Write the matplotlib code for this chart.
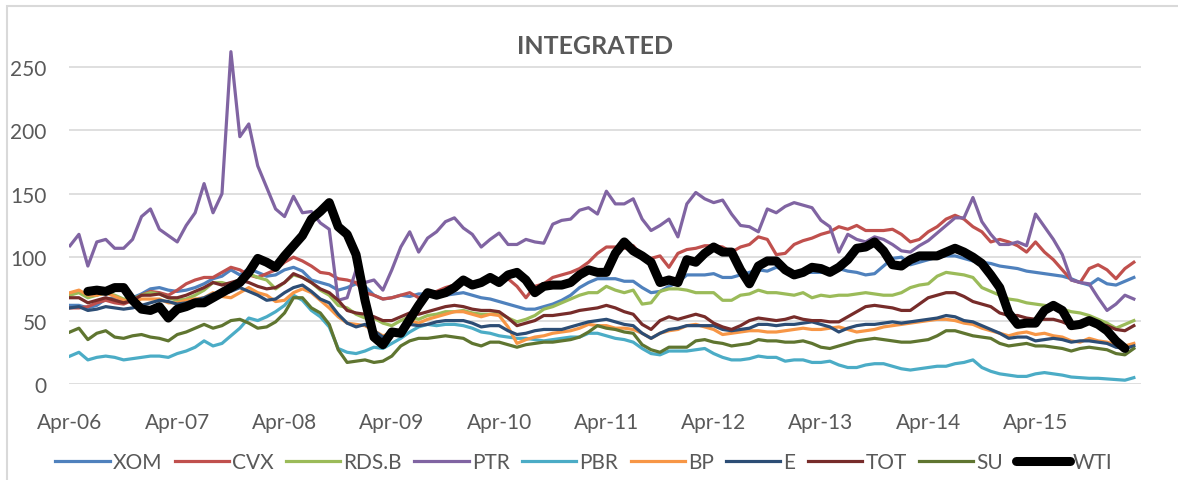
import numpy as np
import matplotlib.pyplot as plt
from matplotlib.patches import Rectangle

# valores mensais (Abr-06 a Mar-16)
xom = [62, 62, 60, 62, 67, 68, 66, 68, 71, 75, 76, 74, 73, 74, 76, 79, 83, 85, 90, 86,
       91, 88, 85, 86, 90, 92, 89, 82, 80, 78, 74, 76, 79, 77, 70, 67, 68, 70, 69, 71,
       71, 71, 70, 71, 72, 70, 68, 67, 65, 63, 61, 59, 59, 61, 63, 66, 70, 76, 80, 83,
       83, 83, 81, 81, 76, 72, 73, 77, 80, 86, 86, 86, 87, 84, 84, 86, 88, 90, 89, 92,
       90, 88, 88, 88, 88, 89, 91, 89, 88, 86, 87, 93, 99, 100, 94, 96, 98, 100, 101, 101,
       99, 97, 96, 95, 93, 92, 91, 89, 88, 87, 86, 85, 83, 80, 78, 83, 79, 78, 81, 84]
cvx = [60, 60, 61, 64, 66, 64, 63, 66, 70, 73, 72, 70, 74, 79, 82, 84, 84, 88, 92, 90,
       86, 84, 87, 90, 96, 100, 97, 93, 88, 87, 83, 82, 80, 72, 70, 67, 68, 70, 72, 68,
       71, 73, 76, 78, 80, 80, 80, 82, 83, 83, 77, 68, 77, 79, 84, 86, 88, 91, 96, 103,
       108, 108, 107, 109, 101, 99, 101, 92, 103, 106, 107, 109, 109, 108, 104, 108, 110, 116, 114, 102,
       103, 110, 113, 115, 118, 120, 124, 122, 125, 121, 121, 121, 122, 118, 112, 114, 120, 124, 130, 133,
       130, 124, 120, 112, 114, 112, 109, 104, 112, 104, 98, 90, 82, 80, 91, 94, 90, 83, 91, 96]
rdsb = [70, 72, 68, 70, 72, 70, 67, 67, 70, 72, 71, 68, 66, 67, 70, 74, 80, 80, 78, 82,
        87, 84, 82, 75, 80, 86, 84, 80, 74, 70, 62, 60, 55, 52, 52, 48, 46, 50, 53, 51,
        54, 55, 57, 57, 58, 56, 55, 55, 56, 52, 49, 51, 54, 59, 61, 64, 67, 70, 72, 72,
        77, 74, 72, 74, 63, 64, 73, 75, 75, 74, 72, 72, 72, 66, 66, 70, 71, 74, 72, 72,
        71, 70, 72, 68, 70, 69, 70, 70, 71, 72, 71, 70, 70, 72, 76, 78, 79, 85, 88, 87,
        86, 84, 76, 73, 70, 67, 66, 64, 63, 62, 61, 59, 57, 56, 54, 51, 48, 44, 47, 50]
ptr = [109, 118, 93, 112, 114, 107, 107, 114, 132, 138, 122, 117, 112, 125, 135, 158, 135, 150, 262, 195,
       205, 172, 155, 138, 132, 148, 135, 136, 127, 122, 66, 68, 90, 80, 82, 74, 90, 108, 120, 104,
       115, 120, 128, 131, 123, 118, 108, 114, 119, 110, 110, 114, 112, 111, 126, 129, 130, 137, 139, 134,
       152, 142, 142, 146, 130, 121, 125, 130, 116, 142, 151, 146, 143, 145, 134, 125, 124, 120, 138, 135,
       140, 143, 141, 139, 129, 124, 104, 118, 114, 112, 116, 114, 110, 105, 104, 109, 113, 119, 125, 131,
       131, 147, 128, 118, 110, 110, 112, 109, 134, 124, 114, 102, 82, 80, 79, 68, 58, 63, 70, 67]
pbr = [22, 25, 19, 21, 22, 21, 19, 20, 21, 22, 22, 21, 24, 26, 29, 34, 30, 32, 38, 44,
       52, 50, 53, 57, 62, 70, 66, 58, 53, 45, 28, 25, 24, 26, 29, 28, 32, 36, 41, 45,
       47, 46, 47, 47, 46, 44, 41, 40, 38, 37, 36, 36, 35, 34, 35, 36, 37, 37, 40, 40,
       38, 36, 35, 33, 28, 24, 23, 26, 26, 26, 27, 28, 24, 21, 19, 19, 20, 22, 21, 21,
       18, 19, 19, 17, 17, 18, 15, 13, 13, 15, 16, 16, 14, 12, 11, 12, 13, 14, 14, 16,
       17, 19, 13, 10, 8, 7, 6, 6, 8, 9, 8, 7, 5.5, 5, 4.5, 4.5, 4, 3.5, 3, 5]
bp = [72, 74, 70, 70, 72, 69, 66, 65, 67, 67, 67, 64, 64, 66, 67, 68, 72, 69, 68, 72,
      76, 72, 70, 65, 66, 72, 75, 72, 66, 60, 53, 48, 47, 46, 42, 38, 40, 43, 50, 48,
      51, 53, 55, 57, 57, 55, 53, 55, 54, 45, 32, 35, 37, 38, 40, 41, 42, 44, 47, 46,
      46, 44, 44, 43, 40, 36, 40, 42, 43, 46, 47, 45, 43, 39, 40, 41, 42, 42, 41, 41,
      42, 43, 44, 43, 43, 44, 45, 43, 41, 42, 43, 45, 46, 47, 48, 49, 50, 51, 51, 50,
      48, 47, 44, 42, 40, 38, 40, 41, 39, 40, 38, 37, 34, 33, 36, 34, 33, 31, 30, 32]
eni = [60, 61, 58, 59, 61, 60, 59, 60, 62, 64, 66, 65, 63, 64, 66, 68, 71, 71, 73, 76,
       73, 70, 66, 67, 72, 76, 78, 73, 67, 64, 55, 48, 45, 47, 42, 37, 39, 43, 47, 46,
       47, 49, 50, 50, 50, 48, 45, 46, 46, 42, 39, 40, 42, 43, 43, 43, 45, 47, 49, 50,
       51, 49, 47, 46, 40, 36, 40, 43, 44, 46, 46, 46, 46, 43, 42, 43, 44, 47, 47, 46,
       47, 47, 48, 49, 47, 45, 41, 44, 46, 47, 47, 48, 49, 48, 49, 50, 51, 52, 54, 53,
       50, 49, 46, 43, 40, 36, 37, 37, 34, 35, 36, 35, 33, 34, 34, 33, 32, 29, 28, 30]
tot = [68, 68, 64, 66, 68, 66, 64, 66, 70, 70, 71, 68, 68, 70, 73, 76, 80, 78, 80, 82,
       80, 77, 75, 76, 80, 87, 84, 80, 75, 72, 66, 58, 56, 55, 53, 50, 50, 53, 56, 55,
       57, 59, 61, 62, 61, 59, 58, 58, 57, 52, 46, 48, 50, 54, 54, 55, 56, 58, 59, 60,
       62, 60, 57, 55, 47, 43, 50, 53, 51, 53, 55, 53, 48, 45, 43, 46, 50, 52, 51, 50,
       51, 53, 51, 50, 50, 49, 49, 53, 57, 61, 62, 61, 60, 58, 58, 63, 68, 70, 72, 72,
       69, 65, 63, 61, 56, 54, 54, 52, 51, 51, 51, 49, 46, 47, 49, 47, 46, 43, 42, 46]
su = [41, 44, 35, 40, 42, 37, 36, 38, 39, 37, 36, 34, 39, 41, 44, 47, 44, 46, 50, 51,
      48, 44, 45, 49, 56, 68, 68, 60, 56, 47, 27, 17, 18, 19, 17, 18, 22, 30, 34, 36,
      36, 37, 38, 37, 36, 32, 30, 33, 33, 31, 29, 31, 32, 33, 33, 34, 35, 37, 41, 46,
      44, 43, 41, 40, 31, 27, 25, 29, 29, 29, 34, 35, 33, 32, 30, 31, 32, 35, 34, 34,
      33, 33, 34, 32, 29, 28, 30, 32, 34, 35, 36, 35, 34, 33, 33, 34, 35, 38, 42, 42,
      40, 38, 37, 36, 32, 30, 31, 32, 30, 30, 29, 28, 26, 28, 29, 28, 27, 24, 23, 28]
wti = [np.nan, np.nan, 73, 74, 73, 76, 76, 66, 59, 58, 61, 52, 59, 61, 64, 64, 68, 72, 76, 80,
       88, 99, 96, 92, 101, 109, 117, 130, 136, 143, 124, 118, 102, 66, 37, 31, 41, 40, 51, 62,
       72, 70, 72, 76, 82, 78, 80, 84, 80, 86, 88, 82, 72, 77, 78, 78, 80, 86, 90, 88,
       88, 103, 112, 105, 101, 96, 80, 82, 80, 98, 96, 103, 108, 104, 104, 90, 79, 93, 97, 97,
       90, 86, 88, 92, 91, 88, 92, 98, 107, 108, 112, 105, 94, 93, 98, 101, 101, 101, 104, 107,
       104, 100, 95, 86, 76, 56, 47, 48, 48, 58, 62, 58, 46, 47, 50, 47, 42, 34, 28, np.nan]

series = [('XOM', xom, '#4F81BD'), ('CVX', cvx, '#C0504D'), ('RDS.B', rdsb, '#9BBB59'),
          ('PTR', ptr, '#8064A2'), ('PBR', pbr, '#4BACC6'), ('BP', bp, '#F79646'),
          ('E', eni, '#2C4D75'), ('TOT', tot, '#772C2A'), ('SU', su, '#5F7530')]

tick_labels = ['Apr-06', 'Apr-07', 'Apr-08', 'Apr-09', 'Apr-10',
               'Apr-11', 'Apr-12', 'Apr-13', 'Apr-14', 'Apr-15']

plt.rcParams['font.family'] = ['Lato', 'DejaVu Sans']
cinza = '#595959'

fig = plt.figure(figsize=(11.78, 4.81), dpi=100)
ax = fig.add_axes([69/1178, 1 - 385/481, (1141 - 69)/1178, (385 - 40)/481])

meses = np.arange(len(xom))
for nome, valores, cor in series:
    ax.plot(meses, valores, color=cor, lw=2.3, label=nome, solid_joinstyle='round')
ax.plot(meses, wti, color='black', lw=6.5, label='WTI', solid_joinstyle='round',
        solid_capstyle='round')

ax.set_xlim(-0.11, 119.8)
ax.set_ylim(0, 272)
ax.set_yticks(range(0, 251, 50))
ax.set_xticks(range(0, 120, 12))
ax.set_xticklabels(tick_labels)
ax.tick_params(axis='both', length=0, labelsize=15, labelcolor=cinza)
ax.tick_params(axis='y', pad=16)
ax.tick_params(axis='x', pad=20)
ax.grid(axis='y', color='#D9D9D9', lw=1.2)
ax.set_axisbelow(True)
for s in ax.spines.values():
    s.set_visible(False)

fig.text(595/1178, 1 - 46/481, 'INTEGRATED', ha='center', va='center',
         fontsize=18, fontweight='bold', color=cinza)

fig.legend(loc='center', bbox_to_anchor=(584/1178, 1 - 463/481), ncol=10,
           frameon=False, fontsize=15, handlelength=2.6, handletextpad=0.15,
           columnspacing=0.6, labelcolor=cinza)

# moldura do gráfico
fig.patches.append(Rectangle((7/1178, -0.1), 1.2, 1 - 7/481 + 0.1, transform=fig.transFigure,
                             fill=False, edgecolor='#D9D9D9', lw=1.5))

fig.savefig('out.png', dpi=100)
